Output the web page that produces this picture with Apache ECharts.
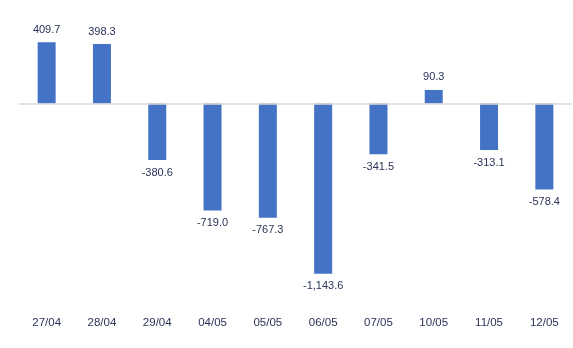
<!DOCTYPE html>
<html><head><meta charset="utf-8">
<script src="https://cdn.jsdelivr.net/npm/echarts@6/dist/echarts.min.js"></script>
<style>html,body{margin:0;padding:0;background:#fff}#c{width:573px;height:348px}</style>
</head><body><div id="c"></div>
<script>
const categories = ["27/04","28/04","29/04","04/05","05/05","06/05","07/05","10/05","11/05","12/05"];
const values = [409.7, 398.3, -380.6, -719.0, -767.3, -1143.6, -341.5, 90.3, -313.1, -578.4];

const chart = echarts.init(document.getElementById('c'), null, {renderer:'canvas'});
const fmt = v => v.toLocaleString('en-US',{minimumFractionDigits:1,maximumFractionDigits:1});
const textColor = '#2a3358';
chart.setOption({
  animation:false,
  grid:{left:19,right:1,top:14,bottom:36,containLabel:false},
  xAxis:{type:'category',data:categories,position:'bottom',
    axisLine:{show:false,onZero:false},axisTick:{show:false},
    axisLabel:{color:textColor,fontFamily:'Liberation Sans',fontSize:11.5,margin:5}},
  yAxis:{type:'value',min:-1400,max:600,show:false,splitLine:{show:false}},
  series:[{type:'bar',barWidth:18,
    data:values.map(v=>({value:v,label:{position:v>=0?'top':'bottom',distance:v>=0?7:7}})),
    itemStyle:{color:'#4472C4'},
    label:{show:true,color:textColor,fontFamily:'Liberation Sans',fontSize:11,formatter:p=>fmt(p.value)},
    markLine:{silent:true,symbol:'none',label:{show:false},
      lineStyle:{color:'#d9d9d9',width:1.5,type:'solid'},data:[{yAxis:0}]},
    z:3
  }]
});
</script></body></html>
